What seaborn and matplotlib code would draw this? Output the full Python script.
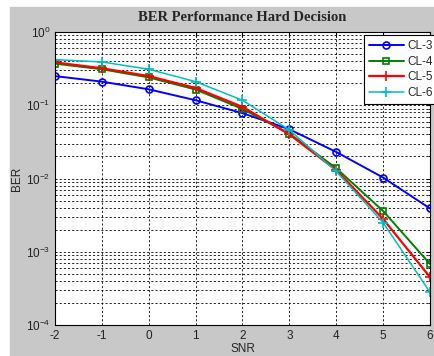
import numpy as np
import pandas as pd
import matplotlib
matplotlib.use("Agg")
import matplotlib.pyplot as plt
from matplotlib.patches import Rectangle
from matplotlib.ticker import LogLocator, NullFormatter
import seaborn as sns

snr = [-2, -1, 0, 1, 2, 3, 4, 5, 6]
ber_cl3 = [0.25, 0.21, 0.165, 0.117, 0.078, 0.047, 0.023, 0.0103, 0.0039]
ber_cl4 = [0.37, 0.31, 0.24, 0.164, 0.089, 0.041, 0.0138, 0.0036, 0.00068]
ber_cl5 = [0.385, 0.32, 0.25, 0.172, 0.095, 0.040, 0.013, 0.0028, 0.00045]
ber_cl6 = [0.42, 0.39, 0.31, 0.21, 0.117, 0.046, 0.0125, 0.0025, 0.00028]
series_names = ["CL-3", "CL-4", "CL-5", "CL-6"]

df = pd.DataFrame({
    "SNR": snr * 4,
    "BER": ber_cl3 + ber_cl4 + ber_cl5 + ber_cl6,
    "code": sum([[n] * len(snr) for n in series_names], []),
})

palette = {"CL-3": "#0000ff", "CL-4": "#008000", "CL-5": "#ff0000", "CL-6": "#00bfbf"}
markers = {"CL-3": "o", "CL-4": "s", "CL-5": "+", "CL-6": "+"}
msizes = {"CL-3": 5, "CL-4": 5, "CL-5": 7, "CL-6": 7}
widths = {"CL-3": 1.4, "CL-4": 1.4, "CL-5": 1.6, "CL-6": 1.1}

sns.set_style("white")
plt.rcParams["font.family"] = ["Liberation Sans", "DejaVu Sans"]
plt.rcParams["axes.unicode_minus"] = False

fig = plt.figure(figsize=(4.35, 3.56), dpi=100, facecolor="white")
fig.patches.append(Rectangle((10 / 435, 0), 1, (356 - 7) / 356,
                             transform=fig.transFigure, color="#c8c8c8", zorder=-10))
ax = fig.add_axes([55 / 435, 1 - 325 / 356, 375 / 435, 293 / 356])
ax.set_facecolor("white")

for name in series_names:
    sub = df[df["code"] == name]
    sns.lineplot(data=sub, x="SNR", y="BER", ax=ax, color=palette[name],
                 marker=markers[name], markersize=msizes[name],
                 markerfacecolor="none", markeredgecolor=palette[name],
                 markeredgewidth=1.2, linewidth=widths[name], label=name)

ax.set_yscale("log")
ax.set_xlim(-2, 6)
ax.set_ylim(1e-4, 1)
ax.set_xticks(snr)
ax.yaxis.set_major_locator(LogLocator(base=10, numticks=10))
ax.yaxis.set_minor_locator(LogLocator(base=10, subs=np.arange(2, 10), numticks=20))
ax.yaxis.set_minor_formatter(NullFormatter())

grid_kw = dict(color="black", linestyle=(0, (2.5, 2.5)), linewidth=0.6)
ax.grid(True, which="major", axis="both", **grid_kw)
ax.grid(True, which="minor", axis="y", **grid_kw)

ax.tick_params(which="both", direction="in", top=True, right=True,
               labelsize=8.5, length=3, colors="black", labelcolor="#222222")
ax.tick_params(which="minor", length=1.5)
for sp in ax.spines.values():
    sp.set_color("black")
    sp.set_linewidth(0.8)

ax.set_xlabel("SNR", fontsize=8.5, labelpad=1)
ax.set_ylabel("BER", fontsize=8.5, labelpad=2)
ax.set_title("BER Performance Hard Decision", fontsize=10.5, fontweight="bold",
             family=["Liberation Serif", "DejaVu Serif"], pad=8)

leg = ax.legend(loc="upper left", bbox_to_anchor=(309 / 375, 1 - 3 / 293),
                frameon=True, fancybox=False, fontsize=8.5, handlelength=2.9,
                borderpad=0.45, labelspacing=0.3, handletextpad=0.3,
                borderaxespad=0)
leg.get_frame().set_edgecolor("black")
leg.get_frame().set_linewidth(0.8)
leg.get_frame().set_alpha(1)

fig.savefig("out.png", dpi=100, facecolor=fig.get_facecolor())
